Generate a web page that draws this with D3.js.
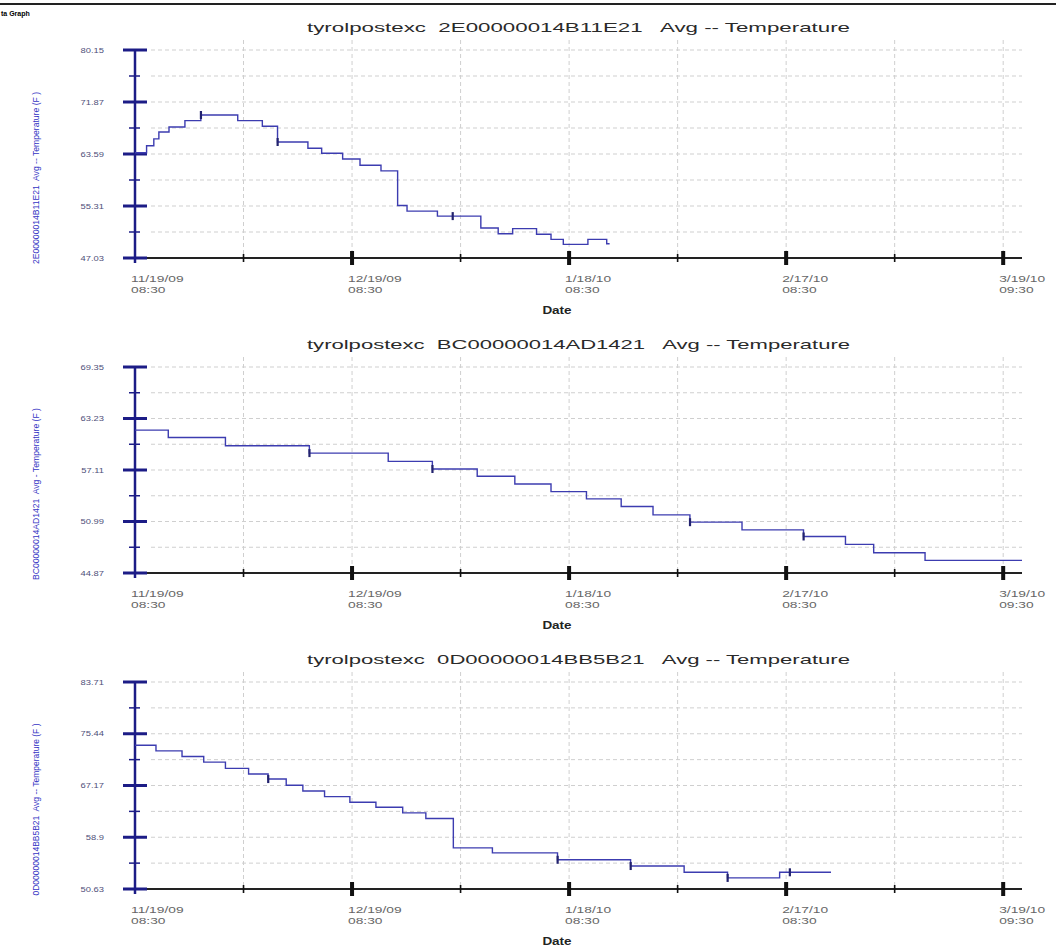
<!DOCTYPE html>
<html>
<head>
<meta charset="utf-8">
<script src="https://cdn.jsdelivr.net/npm/d3@7"></script>
<style>
  body { margin: 0; background: #fff; }
  svg { display: block; font-family: Arial, "Liberation Sans", sans-serif; }
</style>
</head>
<body>
<div id="chart"></div>
<script>
// x ticks: days after 11/19/09 08:30
const tickDays = [0, 15, 30, 45, 60, 75, 90, 105, 120]
const dateLabels = ['11/19/09', '12/19/09', '1/18/10', '2/17/10', '3/19/10']
const timeLabels = ['08:30', '08:30', '08:30', '08:30', '09:30']

const titles = [
    'tyrolpostexc  2E00000014B11E21   Avg -- Temperature',
    'tyrolpostexc  BC00000014AD1421   Avg -- Temperature',
    'tyrolpostexc  0D00000014BB5B21   Avg -- Temperature'
]
const yTitles = [
    '2E00000014B11E21  Avg -- Temperature (F )',
    'BC00000014AD1421  Avg - Temperature (F )',
    '0D00000014BB5B21  Avg -- Temperature (F )'
]

const p1Ticks = [47.03, 55.31, 63.59, 71.87, 80.15]
const p2Ticks = [44.87, 50.99, 57.11, 63.23, 69.35]
const p3Ticks = [50.63, 58.9, 67.17, 75.44, 83.71]

const p1Days = [0, 1.6, 2.6, 3.3, 4.7, 6.9, 9.1, 14.2, 17.6, 19.7, 23.9, 25.8, 28.7, 31.1, 34.0, 36.3, 37.6, 41.8, 47.8, 50.2, 52.2, 55.5, 57.5, 59.2, 62.6, 65.2, 65.6]
const p1Temps = [63.8, 64.9, 66.0, 67.1, 67.9, 68.9, 69.8, 68.9, 68.0, 65.5, 64.5, 63.7, 62.8, 61.8, 60.9, 55.4, 54.5, 53.7, 51.8, 50.9, 51.7, 50.8, 50.0, 49.2, 50.0, 49.3, 49.3]
const p1Marks = [9.1, 19.7, 43.9]

const p2Days = [0, 4.6, 12.5, 24.1, 35.0, 41.1, 47.3, 52.5, 57.5, 62.4, 67.2, 71.6, 76.7, 83.9, 92.4, 98.2, 102.1, 109.2, 122.6]
const p2Temps = [61.85, 60.98, 59.99, 59.12, 58.14, 57.23, 56.36, 55.45, 54.54, 53.68, 52.77, 51.78, 50.91, 50.0, 49.21, 48.27, 47.28, 46.37, 46.37]
const p2Marks = [24.1, 41.1, 76.7, 92.4]

const p3Days = [0, 2.9, 6.5, 9.5, 12.5, 15.7, 18.4, 20.9, 23.2, 26.2, 29.7, 33.3, 37.0, 40.2, 44.0, 49.4, 58.4, 68.5, 75.9, 81.9, 89.1, 96.2]
const p3Temps = [73.6, 72.7, 71.8, 70.9, 69.9, 69.0, 68.2, 67.2, 66.3, 65.4, 64.5, 63.7, 62.8, 61.9, 57.2, 56.4, 55.3, 54.3, 53.3, 52.4, 53.3, 53.3]
const p3Marks = [18.4, 58.4, 68.5, 81.9, 90.5]

const panels = [
    { top: 50, bottom: 258, ticks: p1Ticks, days: p1Days, temps: p1Temps, marks: p1Marks },
    { top: 367, bottom: 573, ticks: p2Ticks, days: p2Days, temps: p2Temps, marks: p2Marks },
    { top: 682, bottom: 889, ticks: p3Ticks, days: p3Days, temps: p3Temps, marks: p3Marks }
]

const width = 1056
const height = 948
const left = 135
const right = 1022
const navy = '#1c1c86'
const lineColour = '#3c3cb0'

const svg = d3.select('#chart')
    .append('svg')
    .attr('width', width)
    .attr('height', height)

// window frame
svg.append('line')
    .attr('x1', 0).attr('x2', width)
    .attr('y1', 4).attr('y2', 4)
    .attr('stroke', '#222').attr('stroke-width', 2)
svg.append('text')
    .attr('x', 1).attr('y', 16)
    .attr('font-size', 7).attr('font-weight', 'bold')
    .text('ta Graph')

const x = d3.scaleLinear().domain([0, 122.6]).range([left, right])

panels.forEach((p, i) => {
    const y = d3.scaleLinear()
        .domain([p.ticks[0], p.ticks[p.ticks.length - 1]])
        .range([p.bottom, p.top])
    const minor = d3.pairs(p.ticks).map(([a, b]) => (a + b) / 2)
    const g = svg.append('g')

    // title (stretched like the screenshot)
    g.append('text')
        .attr('x', 307).attr('y', p.top - 18)
        .attr('font-size', 13)
        .attr('fill', '#2a2a2a')
        .attr('textLength', 543)
        .attr('lengthAdjust', 'spacingAndGlyphs')
        .style('white-space', 'pre')
        .text(titles[i])

    // grid
    g.append('g').selectAll('line')
        .data(p.ticks.slice(1).concat(minor))
        .join('line')
        .attr('x1', left + 16).attr('x2', right)
        .attr('y1', d => y(d)).attr('y2', d => y(d))
        .attr('stroke', '#cfcfcf').attr('stroke-dasharray', '4,3')
    g.append('g').selectAll('line')
        .data(tickDays.slice(1))
        .join('line')
        .attr('x1', d => x(d)).attr('x2', d => x(d))
        .attr('y1', p.top - 10).attr('y2', p.bottom)
        .attr('stroke', '#cfcfcf').attr('stroke-dasharray', '4,3')

    // x axis
    g.append('line')
        .attr('x1', left).attr('x2', right)
        .attr('y1', p.bottom).attr('y2', p.bottom)
        .attr('stroke', '#222').attr('stroke-width', 2)
    g.append('g').selectAll('rect')
        .data(tickDays.slice(1))
        .join('rect')
        .attr('x', d => x(d) - (d % 30 === 0 ? 2 : 0.8))
        .attr('width', d => d % 30 === 0 ? 4 : 1.6)
        .attr('y', d => p.bottom - (d % 30 === 0 ? 7 : 4))
        .attr('height', d => d % 30 === 0 ? 14 : 8)
        .attr('fill', '#111')
    const majors = tickDays.filter(d => d % 30 === 0)
    g.append('g').selectAll('text')
        .data(majors)
        .join('text')
        .attr('transform', d => `translate(${x(d) - 4}, ${p.bottom + 24}) scale(1.45, 1)`)
        .attr('font-size', 9.5)
        .attr('fill', '#666')
        .text((d, j) => dateLabels[j])
    g.append('g').selectAll('text')
        .data(majors)
        .join('text')
        .attr('transform', d => `translate(${x(d) - 4}, ${p.bottom + 35}) scale(1.45, 1)`)
        .attr('font-size', 9.5)
        .attr('fill', '#666')
        .text((d, j) => timeLabels[j])
    g.append('text')
        .attr('transform', `translate(557, ${p.bottom + 56}) scale(1.35, 1)`)
        .attr('text-anchor', 'middle')
        .attr('font-size', 10).attr('font-weight', 'bold')
        .attr('fill', '#222')
        .text('Date')

    // y axis
    g.append('line')
        .attr('x1', left).attr('x2', left)
        .attr('y1', p.top).attr('y2', p.bottom + 5)
        .attr('stroke', navy).attr('stroke-width', 2.5)
    g.append('g').selectAll('line')
        .data(p.ticks)
        .join('line')
        .attr('x1', left - 12).attr('x2', left + 12)
        .attr('y1', d => y(d)).attr('y2', d => y(d))
        .attr('stroke', navy).attr('stroke-width', 3)
    g.append('g').selectAll('line')
        .data(minor)
        .join('line')
        .attr('x1', left - 6).attr('x2', left + 5)
        .attr('y1', d => y(d)).attr('y2', d => y(d))
        .attr('stroke', navy).attr('stroke-width', 1.5)
    g.append('g').selectAll('text')
        .data(p.ticks)
        .join('text')
        .attr('transform', d => `translate(104, ${y(d) + 2.6}) scale(1.25, 1)`)
        .attr('text-anchor', 'end')
        .attr('font-size', 7.5)
        .attr('fill', '#50507a')
        .text(d => d)
    g.append('text')
        .attr('transform', `translate(39, ${(p.top + p.bottom) / 2 + 24}) rotate(-90)`)
        .attr('text-anchor', 'middle')
        .attr('font-size', 8.5)
        .attr('fill', '#3434c4')
        .attr('textLength', 172)
        .attr('lengthAdjust', 'spacingAndGlyphs')
        .style('white-space', 'pre')
        .text(yTitles[i])

    // series
    const pts = p.days.map((d, j) => [d, p.temps[j]])
    g.append('path')
        .datum(pts)
        .attr('fill', 'none')
        .attr('stroke', lineColour)
        .attr('stroke-width', 1.4)
        .attr('d', d3.line().x(d => x(d[0])).y(d => y(d[1])).curve(d3.curveStepAfter))
    const valueAt = day => p.temps[Math.max(0, d3.bisectRight(p.days, day) - 1)]
    g.append('g').selectAll('rect')
        .data(p.marks)
        .join('rect')
        .attr('x', d => x(d) - 1)
        .attr('y', d => y(valueAt(d)) - 4)
        .attr('width', 2.2)
        .attr('height', 8)
        .attr('fill', '#22226e')
})
</script>
</body>
</html>
